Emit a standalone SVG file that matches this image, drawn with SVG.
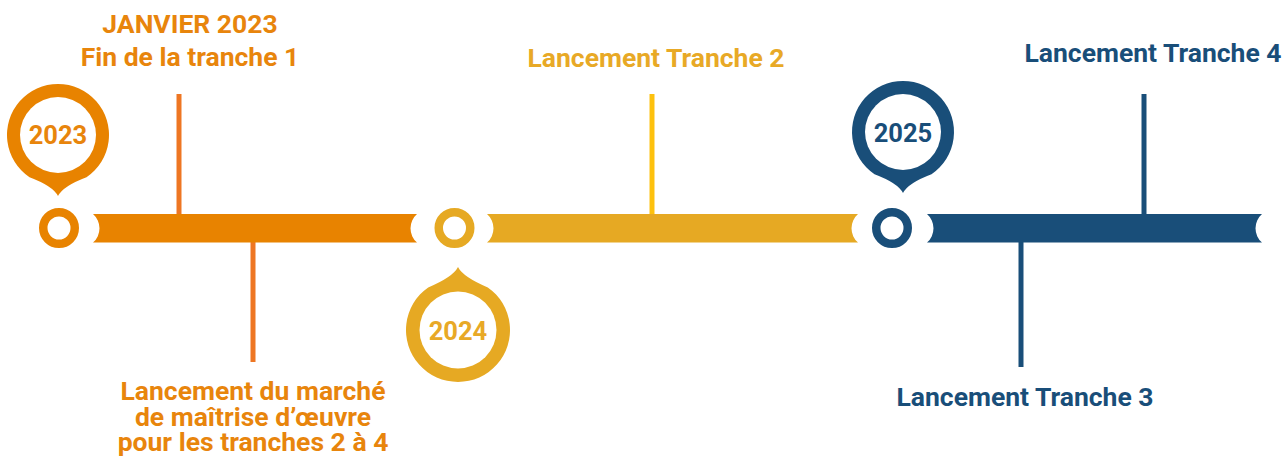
<svg xmlns="http://www.w3.org/2000/svg" width="1284" height="459" viewBox="0 0 1284 459">
<style>
text{font-family:Roboto,"Liberation Sans",sans-serif;font-weight:700;font-size:26.5px;text-anchor:middle}
text.yr{font-size:25.5px}
.o{fill:#E8850C}.y{fill:#E8A926}.b{fill:#194E79}
.ring{fill:#fff;stroke-width:8.5}
.line{stroke-width:5}
</style>
<rect width="1284" height="459" fill="#fff"/>
<g id="connectors">
<line class="line" x1="179" y1="94" x2="179" y2="216" stroke="#EE7623"/>
<line class="line" x1="253" y1="237" x2="253" y2="362" stroke="#EE7623"/>
<line class="line" x1="652" y1="94" x2="652" y2="216" stroke="#FDC10E"/>
<line class="line" x1="1144" y1="94" x2="1144" y2="216" stroke="#194E79"/>
<line class="line" x1="1021" y1="240" x2="1021" y2="367" stroke="#194E79"/>
<path id="bar-2023" fill="#E88300" d="M93,214 L417,214 A19,19 0 0 0 417,242.6 L93,242.6 A19,19 0 0 0 93,214 Z"/>
<path id="bar-2024" fill="#E6A923" d="M487,214 L858,214 A19,19 0 0 0 858,242.6 L487,242.6 A19,19 0 0 0 487,214 Z"/>
<path id="bar-2025" fill="#194E79" d="M927,214 L1262,214 A19,19 0 0 0 1262,242.6 L927,242.6 A19,19 0 0 0 927,214 Z"/>
</g>
<g id="node-2023">
<circle class="ring" cx="59" cy="228" r="15.75" stroke="#E88300"/>
<path fill="#E88300" d="M58,196 Q53,186 29.5,177.2 A51,51 0 1 1 86.5,177.2 Q63,186 58,196 Z"/>
<circle cx="58" cy="135" r="38" fill="#fff"/>
<text class="o yr" x="58" y="143.5">2023</text>
</g>
<g id="node-2024">
<circle class="ring" cx="454.5" cy="228" r="15.75" stroke="#E6A923"/>
<path fill="#E6A923" d="M458,267 Q463,277 487.8,287.4 A52,52 0 1 1 428.2,287.4 Q453,277 458,267 Z"/>
<circle cx="458" cy="330" r="38.5" fill="#fff"/>
<text class="y yr" x="458" y="340">2024</text>
</g>
<g id="node-2025">
<circle class="ring" cx="892" cy="228" r="15.75" stroke="#194E79"/>
<path fill="#194E79" d="M903,193 Q898,183 874.5,174.2 A51,51 0 1 1 931.5,174.2 Q908,183 903,193 Z"/>
<circle cx="903" cy="132" r="38" fill="#fff"/>
<text class="b yr" x="903" y="142">2025</text>
</g>
<g id="label-janvier">
<text class="o" x="190" y="33">JANVIER 2023</text>
<text class="o" x="190" y="66">Fin de la tranche 1</text>
</g>
<g id="label-marche">
<text class="o" x="253" y="400">Lancement du marché</text>
<text class="o" x="253" y="426">de maîtrise d’œuvre</text>
<text class="o" x="253" y="451">pour les tranches 2 à 4</text>
</g>
<g id="label-t2"><text class="y" x="656" y="67">Lancement Tranche 2</text></g>
<g id="label-t4"><text class="b" x="1153" y="62">Lancement Tranche 4</text></g>
<g id="label-t3"><text class="b" x="1025" y="406">Lancement Tranche 3</text></g>
</svg>
